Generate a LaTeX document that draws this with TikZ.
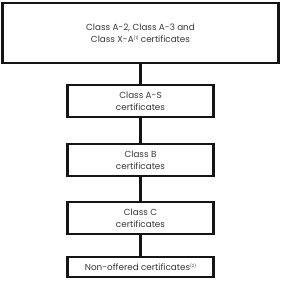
\documentclass[tikz,border=0pt]{standalone}
\usepackage{fontspec}
\setmainfont{Poppins}
\usepackage{xcolor}
\definecolor{boxline}{HTML}{141414}
\definecolor{boxtext}{HTML}{383838}
\newcommand{\fnote}[1]{\raisebox{0.6ex}{\fontsize{4}{4}\selectfont(#1)}}

\begin{document}
\begin{tikzpicture}[x=1pt, y=-1pt,
  tier/.style={draw=boxline, line width=2.8pt, fill=white, minimum width=146pt, minimum height=32pt, inner sep=0pt, font=\fontsize{8.8}{12}\selectfont, text=boxtext, align=center},
  link/.style={draw=boxline, line width=2.8pt},
]
\useasboundingbox (0,0) rectangle (283,285);
\node[tier, minimum width=276pt, minimum height=60pt] (top) at (140.5, 33) {Class A-2, Class A-3 and\\Class X-A\fnote{1} certificates};
\node[tier] (as) at (140.5, 101) {Class A-S\\certificates};
\node[tier] (cb) at (140.5, 160) {Class B\\certificates};
\node[tier] (cc) at (140.5, 218) {Class C\\certificates};
\node[tier, minimum height=20pt] (no) at (140.5, 267) {Non-offered certificates\fnote{2}};
\draw[link] (top) -- (as);
\draw[link] (as) -- (cb);
\draw[link] (cb) -- (cc);
\draw[link] (cc) -- (no);
\end{tikzpicture}
\end{document}
